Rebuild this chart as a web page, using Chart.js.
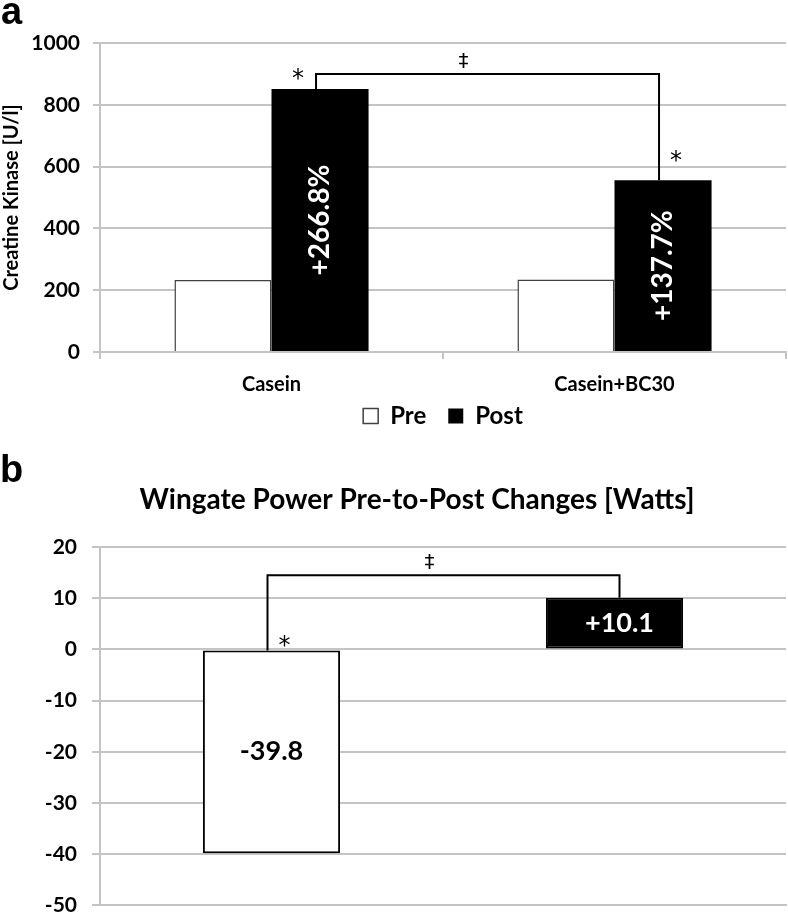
<!DOCTYPE html>
<html>
<head>
<meta charset="utf-8">
<script src="https://cdn.jsdelivr.net/npm/chart.js@4.4.1/dist/chart.umd.min.js"></script>
<style>
  html, body { margin: 0; background: #fff; overflow: hidden; }
  #wrap { position: relative; width: 788px; height: 914px; overflow: hidden; }
  canvas { position: absolute; left: 0; }
  #chartA { top: 0; }
  #chartB { top: 435px; }
  .panel { position: absolute; font: bold 38px "Liberation Sans", Arial, sans-serif; line-height: 38px; color: #000; }
</style>
</head>
<body>
<div id="wrap">
  <canvas id="chartA" width="788" height="438"></canvas>
  <canvas id="chartB" width="788" height="498"></canvas>
  <div class="panel" style="left:1px;top:-8px">a</div>
  <div class="panel" style="left:0;top:450px">b</div>
</div>
<script>
// panel a: creatine kinase, pre vs post
const groups = ['Casein', 'Casein+BC30'];
const preCK = [233, 235];
const postCK = [851, 556];
const postPctLabels = ['+266.8%', '+137.7%'];
const ckTicks = [0, 200, 400, 600, 800, 1000];
const ckBracketLevel = 900;

// panel b: wingate power change
const wingateChange = [-39.8, 10.1];
const wingateLabels = ['-39.8', '+10.1'];
const wingateTicks = [-50, -40, -30, -20, -10, 0, 10, 20];
const wingateBracketLevel = 14.5;
const wingateTitle = 'Wingate Power Pre-to-Post Changes [Watts]';

const FONT = 'Lato, "Open Sans", sans-serif';
const SYMBOL_FONT = '"DejaVu Sans", "Liberation Sans", sans-serif';
const GRID = '#c4c4c4';

function bold(size) {
  return { family: FONT, size: size, weight: 'bold' };
}

function plainTick(value) {
  return String(value);
}

function drawBracket(ctx, x1, y1, x2, y2, yTop) {
  ctx.save();
  ctx.strokeStyle = '#000';
  ctx.lineWidth = 2;
  ctx.beginPath();
  ctx.moveTo(x1, y1);
  ctx.lineTo(x1, yTop);
  ctx.lineTo(x2, yTop);
  ctx.lineTo(x2, y2);
  ctx.stroke();
  ctx.restore();
}

function mark(ctx, text, x, y, size) {
  ctx.save();
  ctx.fillStyle = '#000';
  ctx.font = size + 'px ' + SYMBOL_FONT;
  ctx.textAlign = 'center';
  ctx.textBaseline = 'middle';
  ctx.fillText(text, x, y);
  ctx.restore();
}

function label(ctx, text, x, y, color, size, angle) {
  ctx.save();
  ctx.translate(x, y);
  if (angle) ctx.rotate(angle);
  ctx.fillStyle = color;
  ctx.font = 'bold ' + size + 'px ' + FONT;
  ctx.textAlign = 'center';
  ctx.textBaseline = 'middle';
  ctx.fillText(text, 0, 0);
  ctx.restore();
}

const ckAnnotations = {
  id: 'ckAnnotations',
  afterDatasetsDraw(chart) {
    const ctx = chart.ctx;
    const post = chart.getDatasetMeta(1).data;
    post.forEach((bar, i) => {
      label(ctx, postPctLabels[i], bar.x, (bar.y + bar.base) / 2, '#fff', 28, -Math.PI / 2);
    });
    const top = chart.scales.y.getPixelForValue(ckBracketLevel);
    const x1 = post[0].x - 4, x2 = post[1].x - 4;
    drawBracket(ctx, x1, post[0].y, x2, post[1].y, top);
    mark(ctx, '\u2021', x1 + (x2 - x1) * 0.43, top - 12, 20);
    mark(ctx, '*', post[0].x - 22, post[0].y - 9, 24);
    mark(ctx, '*', post[1].x + 13, post[1].y - 18, 24);
  }
};

const wingateAnnotations = {
  id: 'wingateAnnotations',
  afterDatasetsDraw(chart) {
    const ctx = chart.ctx;
    const bars = chart.getDatasetMeta(0).data;
    label(ctx, wingateLabels[0], bars[0].x, (bars[0].y + bars[0].base) / 2, '#000', 27);
    label(ctx, wingateLabels[1], bars[1].x + 5, (bars[1].y + bars[1].base) / 2, '#fff', 27);
    const top = chart.scales.y.getPixelForValue(wingateBracketLevel);
    const x1 = bars[0].x - 4, x2 = bars[1].x + 5;
    drawBracket(ctx, x1, bars[0].base, x2, bars[1].y, top);
    mark(ctx, '\u2021', x1 + (x2 - x1) * 0.46, top - 12, 20);
    mark(ctx, '*', bars[0].x + 13, bars[0].base - 4, 24);
    // chart title
    label(ctx, wingateTitle, 417, 65, '#000', 28);
  }
};

new Chart(document.getElementById('chartA'), {
  type: 'bar',
  data: {
    labels: groups,
    datasets: [
      { label: 'Pre', data: preCK, backgroundColor: '#fff', borderColor: '#404040', borderWidth: 1.5 },
      { label: 'Post', data: postCK, backgroundColor: '#000', borderColor: '#000', borderWidth: 0 }
    ]
  },
  options: {
    responsive: false,
    animation: false,
    datasets: { bar: { categoryPercentage: 0.566, barPercentage: 1 } },
    layout: { padding: { top: 43, right: 2, left: 0, bottom: 0 } },
    plugins: {
      legend: {
        position: 'bottom',
        fullSize: false,
        labels: {
          font: bold(24),
          color: '#000',
          boxWidth: 15,
          boxHeight: 15,
          padding: 4,
          generateLabels(chart) {
            const items = Chart.defaults.plugins.legend.labels.generateLabels(chart);
            items[0].text += '\u2003';
            return items;
          }
        }
      },
      tooltip: { enabled: false }
    },
    scales: {
      x: {
        grid: { drawOnChartArea: false, drawTicks: true, tickLength: 7, color: GRID, lineWidth: 2 },
        border: { color: GRID, width: 2 },
        ticks: { font: bold(20), color: '#000', padding: 14 },
        afterFit(s) { s.height = 48; }
      },
      y: {
        min: ckTicks[0],
        max: ckTicks[ckTicks.length - 1],
        ticks: { stepSize: ckTicks[1] - ckTicks[0], font: bold(21), color: '#000', padding: 13, callback: plainTick },
        grid: { color: GRID, lineWidth: 2, tickLength: 7 },
        border: { color: GRID, width: 2 },
        title: { display: true, text: 'Creatine Kinase [U/l]', font: bold(20), color: '#000', padding: 0 },
        afterFit(s) { s.width = 100; }
      }
    }
  },
  plugins: [ckAnnotations]
});

new Chart(document.getElementById('chartB'), {
  type: 'bar',
  data: {
    labels: groups,
    datasets: [{
      label: 'Change',
      data: wingateChange,
      backgroundColor: ['#fff', '#000'],
      borderColor: '#000',
      borderWidth: 2,
      borderSkipped: false
    }]
  },
  options: {
    responsive: false,
    animation: false,
    datasets: { bar: { categoryPercentage: 0.4, barPercentage: 1 } },
    layout: { padding: { top: 112, right: 2, left: 0, bottom: 9 } },
    plugins: { legend: { display: false }, tooltip: { enabled: false } },
    scales: {
      x: {
        ticks: { display: false },
        grid: { display: false },
        border: { color: GRID, width: 2 },
        afterFit(s) { s.height = 0; }
      },
      y: {
        min: wingateTicks[0],
        max: wingateTicks[wingateTicks.length - 1],
        ticks: { stepSize: wingateTicks[1] - wingateTicks[0], font: bold(21), color: '#000', padding: 15, callback: plainTick },
        grid: { color: GRID, lineWidth: 2, tickLength: 8 },
        border: { color: GRID, width: 2 },
        afterFit(s) { s.width = 100; }
      }
    }
  },
  plugins: [wingateAnnotations]
});
</script>
</body>
</html>
